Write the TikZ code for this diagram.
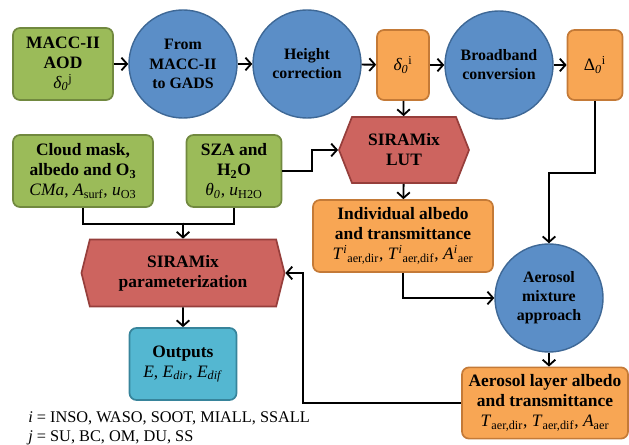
\documentclass[tikz,border=0pt]{standalone}
\usepackage{fontspec}
\setmainfont{Liberation Serif}[BoldFont={Liberation Serif Bold}, ItalicFont={Liberation Serif Italic}, BoldItalicFont={Liberation Serif Bold Italic}]
\usepackage{tikz}
\usetikzlibrary{shapes.geometric, shapes.symbols, arrows.meta, positioning, calc}

\definecolor{ingreen}{RGB}{155,187,89}
\definecolor{ingreenline}{RGB}{113,137,63}
\definecolor{procblue}{RGB}{91,142,199}
\definecolor{procblueline}{RGB}{62,104,150}
\definecolor{dataorange}{RGB}{248,166,84}
\definecolor{dataorangeline}{RGB}{196,122,55}
\definecolor{lutred}{RGB}{205,100,95}
\definecolor{lutredline}{RGB}{150,62,59}
\definecolor{outcyan}{RGB}{84,183,209}
\definecolor{outcyanline}{RGB}{55,132,155}

\newcommand{\boxfont}{\fontsize{12.4}{14.2}\selectfont}
\newcommand{\circfont}{\fontsize{11.3}{13.6}\selectfont}

\tikzstyle{inbox} = [rectangle, rounded corners=5pt, draw=ingreenline, fill=ingreen, line width=1.2pt, align=center, font=\boxfont\bfseries, inner sep=1pt]
\tikzstyle{databox} = [rectangle, rounded corners=5pt, draw=dataorangeline, fill=dataorange, line width=1.2pt, align=center, font=\boxfont\bfseries, inner sep=1pt]
\tikzstyle{outbox} = [rectangle, rounded corners=5pt, draw=outcyanline, fill=outcyan, line width=1.2pt, align=center, font=\boxfont\bfseries, inner sep=1pt]
\tikzstyle{proc} = [circle, draw=procblueline, fill=procblue, line width=1pt, minimum size=2.7cm, align=center, font=\circfont\bfseries, inner sep=0pt]
\tikzstyle{hexa} = [signal, signal to=west and east, draw=lutredline, fill=lutred, line width=1.2pt, align=center, font=\boxfont\bfseries, inner sep=1pt]
\tikzstyle{arrow} = [line width=1.3pt, -{Straight Barb[length=4pt,width=9pt]}]
\tikzstyle{line} = [line width=1.3pt]

\begin{document}
\begin{tikzpicture}[x=0.025cm, y=-0.025cm]
\useasboundingbox (0,0) rectangle (629,445);

% Top row
\node[inbox, minimum width=2.5cm, minimum height=1.8cm] (aod) at (63,64)
  {MACC-II\\AOD\\{\mdseries\textit{δ\textsubscript{0}}\textsuperscript{j}}};
\node[proc] (gads) at (183,64) {From\\MACC-II\\to GADS};
\node[proc] (height) at (307,64) {Height\\correction};
\node[databox, minimum width=1.3cm, minimum height=1.75cm] (delta) at (403,65)
  {\mdseries\textit{δ\textsubscript{0}}\textsuperscript{i}};
\node[proc] (broad) at (499,65) {Broadband\\conversion};
\node[databox, minimum width=1.375cm, minimum height=1.75cm] (Delta) at (595,65)
  {\mdseries Δ\textsubscript{\textit{0}}\textsuperscript{i}};

% Inputs
\node[inbox, minimum width=3.5cm, minimum height=1.8cm] (cloud) at (83,171)
  {Cloud mask,\\albedo and O\textsubscript{3}\\{\mdseries\textit{CMa}, \textit{A}\textsubscript{surf}, \textit{u}\textsubscript{O3}}};
\node[inbox, minimum width=2.375cm, minimum height=1.8cm] (sza) at (234,171)
  {SZA and\\H\textsubscript{2}O\\{\mdseries\textit{θ\textsubscript{0}}, \textit{u}\textsubscript{H2O}}};

% Look-up table and parameterization
\node[hexa, signal pointer angle=137, minimum width=3.25cm, minimum height=1.65cm] (lut) at (404,150)
  {SIRAMix\\LUT};
\node[hexa, signal pointer angle=152, minimum width=5.075cm, minimum height=1.675cm] (param) at (183,273)
  {SIRAMix\\parameterization};

% Aerosol branch
\node[databox, minimum width=4.5cm, minimum height=1.8cm] (indiv) at (403,236)
  {Individual albedo\\and transmittance\\{\mdseries\textit{T}\textsuperscript{\textit{i}}\textsubscript{aer,dir}, \textit{T}\textsuperscript{\textit{i}}\textsubscript{aer,dif}, \textit{A}\textsuperscript{\textit{i}}\textsubscript{aer}}};
\node[proc] (mix) at (549,298) {Aerosol\\mixture\\approach};
\node[databox, minimum width=4.15cm, minimum height=1.78cm] (layer) at (545,403)
  {Aerosol layer albedo\\and transmittance\\{\mdseries\textit{T}\textsubscript{aer,dir}, \textit{T}\textsubscript{aer,dif}, \textit{A}\textsubscript{aer}}};

% Outputs
\node[outbox, minimum width=2.675cm, minimum height=1.8cm] (out) at (183,364)
  {Outputs\\{\mdseries\textit{E}, \textit{E}\textsubscript{\textit{dir}}, \textit{E}\textsubscript{\textit{dif}}}};

% Legend
\node[anchor=west, inner sep=0pt, font=\fontsize{11.6}{13}\selectfont] (ilist) at (28,418)
  {\textit{i} = INSO, WASO, SOOT, MIALL, SSALL};
\node[anchor=west, inner sep=0pt, font=\fontsize{11.6}{13}\selectfont] (jlist) at (28,438)
  {\textit{j} = SU, BC, OM, DU, SS};

% Connectors
\coordinate (join) at (183,223);
\coordinate (back) at (303,403);
\draw[arrow] (aod) -- (gads);
\draw[arrow] (gads) -- (height);
\draw[arrow] (height) -- (delta);
\draw[arrow] (delta) -- (broad);
\draw[arrow] (broad) -- (Delta);
\draw[arrow] (delta) -- (lut);
\draw[arrow] (sza.east) -- ++(30,0) |- (lut.west);
\draw[line] (cloud.south) -- ++(0,16) -| (sza.south);
\draw[arrow] (join) -- (param);
\draw[arrow] (param) -- (out);
\draw[arrow] (lut) -- (indiv);
\draw[arrow] (indiv.south) |- (mix.west);
\draw[arrow] (Delta.south) -- ++(0,72) -| (mix.north);
\draw[arrow] (mix.south) -- (mix.south |- layer.north);
\draw[arrow] (layer.west) -- (back) |- (param.east);
\end{tikzpicture}
\end{document}
